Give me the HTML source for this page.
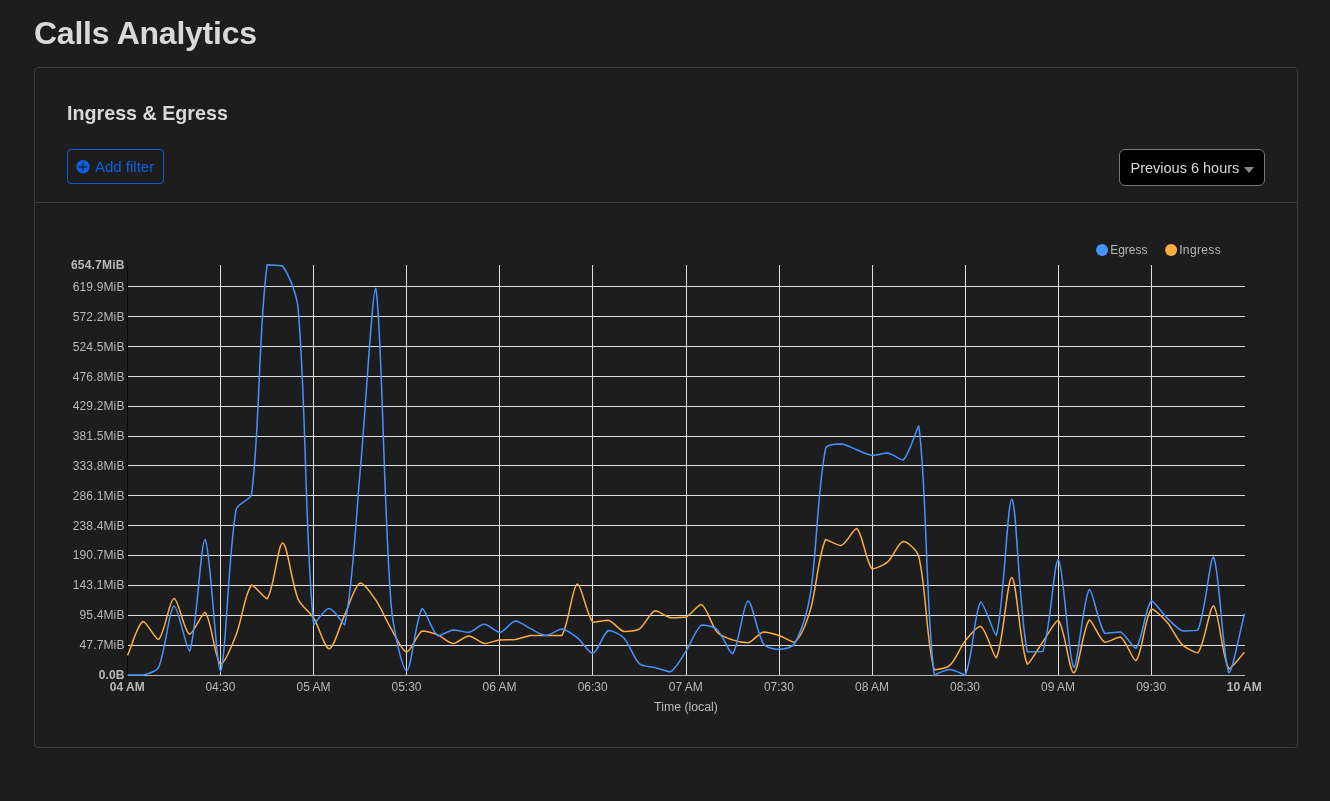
<!DOCTYPE html>
<html><head><meta charset="utf-8"><title>Calls Analytics</title>
<style>
html,body{margin:0;padding:0;background:#1d1d1d;width:1330px;height:801px;overflow:hidden}
body{position:relative;will-change:transform;font-family:"Liberation Sans",sans-serif;color:#d9d9d9}
.abs{position:absolute;white-space:nowrap}
h1{position:absolute;margin:0;left:34px;top:16.9px;font-size:32px;line-height:32px;font-weight:700;letter-spacing:-0.25px;color:#d9d9d9;white-space:nowrap}
.card{position:absolute;left:34px;top:67px;width:1262px;height:679px;border:1px solid #3c3c3c;border-radius:4px;box-sizing:content-box}
.sep{position:absolute;left:35px;top:202px;width:1262px;height:1px;background:#3c3c3c}
h2{position:absolute;margin:0;left:67px;top:103.1px;font-size:19.7px;line-height:20px;font-weight:700;color:#d9d9d9;white-space:nowrap}
.btn{position:absolute;left:67px;top:149px;width:95px;height:33px;border:1px solid #0a5dd8;border-radius:4px}
.btn span{position:absolute;left:27px;top:9.4px;font-size:15px;line-height:15px;color:#0b62e3;white-space:nowrap}
.dd{position:absolute;left:1119px;top:149px;width:144px;height:35px;border:1px solid #777;border-radius:6px;background:#000}
.dd span{position:absolute;left:10.5px;top:11px;font-size:14.5px;line-height:15px;color:#d9d9d9;white-space:nowrap}
.dd b{position:absolute;left:124px;top:17px;width:0;height:0;border-left:5px solid transparent;border-right:5px solid transparent;border-top:6px solid #8a8a8a}
svg.chart{position:absolute;left:0;top:0}
</style></head><body>
<h1>Calls Analytics</h1>
<div class="card"></div>
<div class="sep"></div>
<h2>Ingress &amp; Egress</h2>
<div class="btn"><span>Add filter</span></div>
<div class="dd"><span>Previous 6 hours</span><b></b></div>
<svg class="chart" width="1330" height="801" viewBox="0 0 1330 801">
<g shape-rendering="crispEdges"><line x1="127" x2="1245" y1="645.5" y2="645.5" stroke="#dedede"/>
<line x1="127" x2="1245" y1="615.5" y2="615.5" stroke="#dedede"/>
<line x1="127" x2="1245" y1="585.5" y2="585.5" stroke="#dedede"/>
<line x1="127" x2="1245" y1="555.5" y2="555.5" stroke="#dedede"/>
<line x1="127" x2="1245" y1="525.5" y2="525.5" stroke="#dedede"/>
<line x1="127" x2="1245" y1="495.5" y2="495.5" stroke="#dedede"/>
<line x1="127" x2="1245" y1="465.5" y2="465.5" stroke="#dedede"/>
<line x1="127" x2="1245" y1="436.5" y2="436.5" stroke="#dedede"/>
<line x1="127" x2="1245" y1="406.5" y2="406.5" stroke="#dedede"/>
<line x1="127" x2="1245" y1="376.5" y2="376.5" stroke="#dedede"/>
<line x1="127" x2="1245" y1="346.5" y2="346.5" stroke="#dedede"/>
<line x1="127" x2="1245" y1="316.5" y2="316.5" stroke="#dedede"/>
<line x1="127" x2="1245" y1="286.5" y2="286.5" stroke="#dedede"/>
<line x1="220.5" x2="220.5" y1="265" y2="675" stroke="#dedede"/>
<line x1="313.5" x2="313.5" y1="265" y2="675" stroke="#dedede"/>
<line x1="406.5" x2="406.5" y1="265" y2="675" stroke="#dedede"/>
<line x1="499.5" x2="499.5" y1="265" y2="675" stroke="#dedede"/>
<line x1="592.5" x2="592.5" y1="265" y2="675" stroke="#dedede"/>
<line x1="686.5" x2="686.5" y1="265" y2="675" stroke="#dedede"/>
<line x1="779.5" x2="779.5" y1="265" y2="675" stroke="#dedede"/>
<line x1="872.5" x2="872.5" y1="265" y2="675" stroke="#dedede"/>
<line x1="965.5" x2="965.5" y1="265" y2="675" stroke="#dedede"/>
<line x1="1058.5" x2="1058.5" y1="265" y2="675" stroke="#dedede"/>
<line x1="1151.5" x2="1151.5" y1="265" y2="675" stroke="#dedede"/>
<line x1="127" x2="1245" y1="675.5" y2="675.5" stroke="#b4b4b4"/>
<line x1="127.5" x2="127.5" y1="265" y2="676" stroke="#080808"/></g>
<g font-family="Liberation Sans, sans-serif" font-size="12" fill="#b9b9b9"><text x="124.6" y="678.7" text-anchor="end" font-weight="700" letter-spacing="0.15">0.0B</text>
<text x="124.6" y="648.9" text-anchor="end" font-weight="400" letter-spacing="0.15">47.7MiB</text>
<text x="124.6" y="619.1" text-anchor="end" font-weight="400" letter-spacing="0.15">95.4MiB</text>
<text x="124.6" y="589.2" text-anchor="end" font-weight="400" letter-spacing="0.15">143.1MiB</text>
<text x="124.6" y="559.4" text-anchor="end" font-weight="400" letter-spacing="0.15">190.7MiB</text>
<text x="124.6" y="529.6" text-anchor="end" font-weight="400" letter-spacing="0.15">238.4MiB</text>
<text x="124.6" y="499.8" text-anchor="end" font-weight="400" letter-spacing="0.15">286.1MiB</text>
<text x="124.6" y="469.9" text-anchor="end" font-weight="400" letter-spacing="0.15">333.8MiB</text>
<text x="124.6" y="440.1" text-anchor="end" font-weight="400" letter-spacing="0.15">381.5MiB</text>
<text x="124.6" y="410.3" text-anchor="end" font-weight="400" letter-spacing="0.15">429.2MiB</text>
<text x="124.6" y="380.5" text-anchor="end" font-weight="400" letter-spacing="0.15">476.8MiB</text>
<text x="124.6" y="350.6" text-anchor="end" font-weight="400" letter-spacing="0.15">524.5MiB</text>
<text x="124.6" y="320.8" text-anchor="end" font-weight="400" letter-spacing="0.15">572.2MiB</text>
<text x="124.6" y="291.0" text-anchor="end" font-weight="400" letter-spacing="0.15">619.9MiB</text>
<text x="124.6" y="269.1" text-anchor="end" font-weight="700" letter-spacing="0.2">654.7MiB</text>
<text x="127.3" y="690.8" text-anchor="middle" font-weight="700">04 AM</text>
<text x="220.4" y="690.8" text-anchor="middle" font-weight="400">04:30</text>
<text x="313.5" y="690.8" text-anchor="middle" font-weight="400">05 AM</text>
<text x="406.5" y="690.8" text-anchor="middle" font-weight="400">05:30</text>
<text x="499.6" y="690.8" text-anchor="middle" font-weight="400">06 AM</text>
<text x="592.7" y="690.8" text-anchor="middle" font-weight="400">06:30</text>
<text x="685.8" y="690.8" text-anchor="middle" font-weight="400">07 AM</text>
<text x="778.9" y="690.8" text-anchor="middle" font-weight="400">07:30</text>
<text x="872.0" y="690.8" text-anchor="middle" font-weight="400">08 AM</text>
<text x="965.0" y="690.8" text-anchor="middle" font-weight="400">08:30</text>
<text x="1058.1" y="690.8" text-anchor="middle" font-weight="400">09 AM</text>
<text x="1151.2" y="690.8" text-anchor="middle" font-weight="400">09:30</text>
<text x="1244.3" y="690.8" text-anchor="middle" font-weight="700">10 AM</text>
<text x="686" y="711" text-anchor="middle" font-size="12.3">Time (local)</text></g>
<path d="M127.5,655.4C132.15,645.23 137.33,624.41 143.01,621.5C146.64,621.5 155.26,639.5 158.53,639.5C164.56,635.03 169.12,599.33 174.04,598.5C178.43,598.5 184.05,631.85 189.56,634.3C193.36,634.3 201.98,612.3 205.07,612.3C211.29,618.29 214.81,659.99 220.58,664.2C224.12,664.2 232.49,644.12 236.1,634.9C241.8,620.33 244.95,592.65 251.61,584.9C254.26,584.9 264.66,598.8 267.12,598.8C273.97,589.56 278,543 282.64,543C287.31,543.06 291.59,583.33 298.15,599.2C300.9,605.83 309.81,611.84 313.67,618C319.12,626.72 324.71,648.8 329.18,648.8C334.02,648.32 339.93,625.02 344.69,614.9C349.24,605.25 354.56,585.63 360.21,582.9C363.87,582.9 371.89,594.22 375.72,599.9C381.2,608.02 386.18,620.44 391.24,628.9C395.49,636.01 401.95,651.49 406.75,651.8C411.26,651.8 416.5,634.04 422.26,630.9C425.81,630.9 433.36,633.11 437.78,634.9C442.67,636.89 448.58,643.35 453.29,643.5C457.88,643.5 464.15,635.9 468.81,635.9C473.46,635.9 479.48,642.88 484.32,643.5C488.78,643.5 495.12,640.51 499.83,639.9C504.43,639.5 510.77,639.9 515.35,639.5C520.08,638.83 526.13,636.11 530.86,635.5C535.44,635.5 541.72,635.5 546.38,635.5C551.03,635.5 559.81,635.5 561.89,635.5C569.12,623.48 572.14,586.14 577.4,583.9C581.45,583.9 586.16,614.37 592.92,622.3C595.47,622.3 604.24,620.3 608.43,620.3C613.55,621.82 618.84,630.08 623.94,631.5C628.14,631.5 635.76,631.37 639.46,628.9C645.07,625.16 649.54,612.76 654.97,610.8C658.84,610.8 665.62,616.73 670.49,617.7C674.93,617.7 681.92,617.7 686,617C691.22,614.79 697.91,604.6 701.51,604.6C707.22,607.34 711.05,625.09 717.03,631.9C720.35,635.68 727.65,638.18 732.54,639.9C736.96,641.45 743.83,642.8 748.06,642.8C753.14,641.49 758.51,633.09 763.57,631.9C767.82,631.9 774.57,633.99 779.08,635.5C783.88,637.11 791.56,642.3 794.6,642.3C800.87,637.33 807.1,620.89 810.11,610.9C816.41,590.02 818.05,555.35 825.62,539.4C827.36,539.4 837.24,545.6 841.14,545.6C846.55,543.68 853.41,528.4 856.65,528.4C862.72,532.96 865.48,561.68 872.17,568.9C874.79,568.9 883.96,565.17 887.68,561.9C893.27,556.98 898.13,542.5 903.19,541.6C907.44,541.6 917.24,550.33 918.71,556.4C926.55,588.79 926.06,641.14 934.22,669.8C935.37,669.8 946.41,668.5 949.74,665.4C955.72,659.83 959.88,647.66 965.25,640.9C969.19,635.93 977.25,626.3 980.76,626.3C986.56,629.46 993.48,657.8 996.28,657.8C1002.79,647.56 1007.31,577.5 1011.79,577.5C1016.62,578.5 1020.19,649.43 1027.31,664.2C1029.5,664.2 1038.12,648.56 1042.82,641.9C1047.42,635.39 1055.29,620.3 1058.33,620.3C1064.6,626.54 1069.21,672.8 1073.85,672.8C1078.52,672.74 1083.13,626.02 1089.36,619.9C1092.44,619.9 1099.07,639.12 1104.88,642.3C1108.38,642.3 1116.98,636.9 1120.39,636.9C1126.29,640.42 1132.69,660.8 1135.9,660.8C1142,655.3 1144.64,617.4 1151.42,608.9C1153.95,608.9 1163,617.34 1166.93,621.9C1172.31,628.14 1176.73,639.2 1182.44,644.9C1186.03,648.47 1195.53,652.8 1197.96,652.8C1204.84,644.15 1209.45,605.9 1213.47,605.9C1218.75,608.62 1222.09,658.52 1228.99,668.8C1231.4,668.8 1239.85,657.18 1244.5,652.2" fill="none" stroke="#fbad41" stroke-width="1.5" stroke-linejoin="round"/>
<path d="M127.5,675C132.15,675 138.61,675 143.01,675C147.92,673.8 156.54,671.84 158.53,667.4C165.84,651.11 168.74,608.67 174.04,605.9C178.05,605.9 186.78,651.2 189.56,651.2C196.09,637.22 200.79,539.5 205.07,539.5C210.1,542.74 216.4,671.2 220.58,671.2C225.71,666.28 227.9,556.49 236.1,509.7C237.21,503.33 250.8,500.44 251.61,494C260.1,426.97 258.41,328.86 267.12,264.8C267.72,265 280.28,265 282.64,266C289.58,275.89 296.98,295.4 298.15,309C306.29,403.07 304.98,541.04 313.67,624.9C314.29,624.9 324.53,608.5 329.18,608.5C333.83,608.5 343.51,624.9 344.69,624.9C352.82,588.9 355.95,517.21 360.21,471C365.26,416.2 372.32,288.2 375.72,288.2C381.63,313.87 383.54,511.02 391.24,605.9C392.85,625.8 402.01,670.4 406.75,670.8C411.31,670.8 416.02,615.52 422.26,608.5C425.33,608.5 431.69,631.7 437.78,635.9C441,635.9 448.5,630.46 453.29,629.9C457.81,629.9 464.4,632.3 468.81,632.3C473.71,631.42 479.67,624.3 484.32,624.3C488.98,624.32 495.41,632.4 499.83,632.4C504.72,631.86 510.46,621.45 515.35,620.9C519.77,620.9 526.13,626.67 530.86,628.9C535.43,631.05 541.72,635.5 546.38,635.5C551.03,635.5 557.38,628.9 561.89,628.9C566.69,629.27 573.21,634.59 577.4,637.9C582.52,641.94 588.8,653.4 592.92,653.4C598.11,652.16 602.69,633.37 608.43,630.5C612,630.5 620.57,634.28 623.94,637.9C629.88,644.27 633.37,657.99 639.46,663.8C642.68,666.87 650.34,666.31 654.97,667.5C659.65,668.71 666.91,671.8 670.49,671.8C676.22,668.79 681.73,657.64 686,651.2C691.04,643.6 695.43,629.25 701.51,625C704.74,625 713.69,626.4 717.03,629.5C722.99,635.04 729.35,653.8 732.54,653.8C738.65,648.17 742.96,602.54 748.06,600.9C752.27,600.9 756.73,633.11 763.57,643.8C766.04,647.66 774.44,649.4 779.08,649.4C783.75,649.35 792.28,647.5 794.6,643.5C801.59,631.45 807.76,610.67 810.11,595.9C817.07,552.2 817.23,489.66 825.62,448.6C826.54,444.12 836.54,444.1 841.14,444.1C845.85,444.28 851.99,448.1 856.65,449.8C861.3,451.49 867.4,454.91 872.17,455.4C876.71,455.4 883.21,453 887.68,453C892.52,453.72 900.3,460 903.19,460C909.6,454.36 917.49,425.7 918.71,425.7C926.8,481.75 925.49,606.42 934.22,675C934.8,675 945.08,669.4 949.74,669.4C954.39,669.4 963.57,675 965.25,675C972.88,658.41 974.54,609.83 980.76,601.9C983.85,601.9 994.3,635.5 996.28,635.5C1003.61,611.24 1007.4,499.2 1011.79,499.2C1016.71,501.78 1018.85,610.34 1027.31,651.8C1028.16,651.8 1041.49,651.8 1042.82,651.4C1050.8,627.69 1054.04,559.6 1058.33,559.6C1063.35,562.19 1068.46,662.21 1073.85,667.4C1077.77,667.4 1083.5,595.91 1089.36,589.5C1092.81,589.5 1097.9,623.97 1104.88,633.5C1107.21,633.5 1116.58,631.9 1120.39,631.9C1125.89,634.5 1133,648.2 1135.9,648.2C1142.31,641.8 1145.05,607.12 1151.42,600.9C1154.36,600.9 1161.98,613.11 1166.93,617.9C1171.29,622.11 1177.18,628.86 1182.44,630.9C1186.49,630.9 1196.35,630.9 1197.96,629.9C1205.66,611.56 1209.85,557 1213.47,557C1219.16,564.86 1222.87,661.58 1228.99,672.8C1232.18,672.8 1239.85,631.57 1244.5,613.9" fill="none" stroke="#4693ff" stroke-width="1.5" stroke-linejoin="round"/>
<circle cx="83" cy="166.8" r="6.75" fill="#0b62e3"/>
<rect x="78.5" y="166" width="8.8" height="1.7" fill="#16284a"/><rect x="82.1" y="162.5" width="1.7" height="8.7" fill="#16284a"/>
<circle cx="1102.1" cy="250" r="6" fill="#4693ff"/>
<circle cx="1171.1" cy="250" r="6" fill="#fbad41"/>
<g font-family="Liberation Sans, sans-serif" font-size="12" fill="#b9b9b9">
<text x="1110.2" y="254">Egress</text><text x="1179.2" y="254" letter-spacing="0.35">Ingress</text></g>
</svg>
</body></html>
